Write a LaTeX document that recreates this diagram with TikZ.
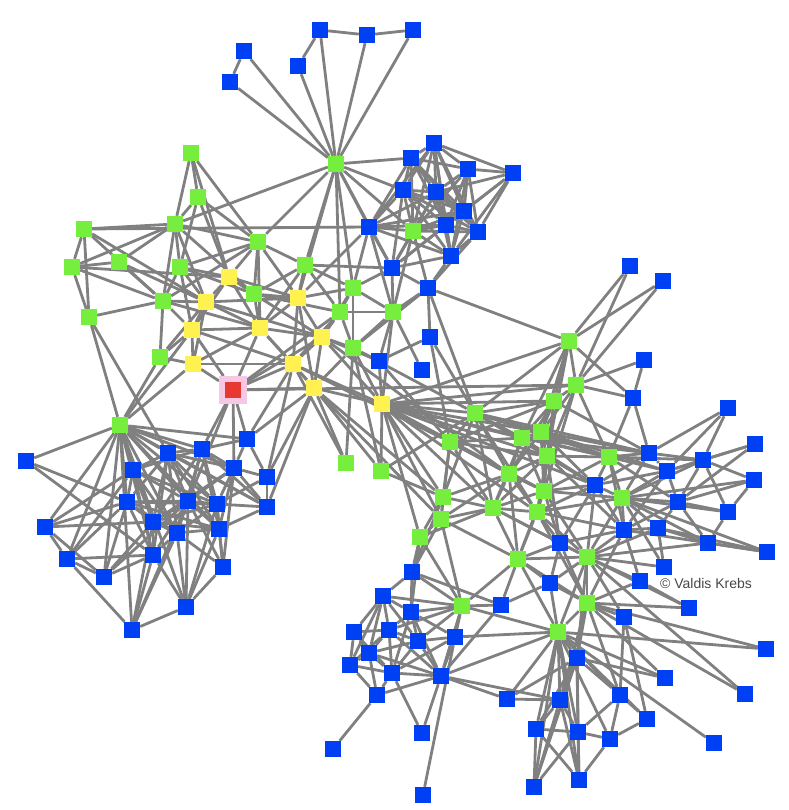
\documentclass[tikz,border=0pt]{standalone}
\usepackage{fontspec}
\usepackage{tikz}
\usetikzlibrary{backgrounds}
\newfontfamily\creditfont{Liberation Sans}
\definecolor{nodeblue}{RGB}{0,64,245}
\definecolor{nodegreen}{RGB}{118,238,62}
\definecolor{nodeyellow}{RGB}{255,242,80}
\definecolor{nodered}{RGB}{232,56,48}
\definecolor{halopink}{RGB}{245,200,230}
\definecolor{linkgray}{RGB}{128,128,128}
\tikzstyle{actor}=[rectangle, inner sep=0pt, minimum size=16pt]
\tikzstyle{bl}=[actor, fill=nodeblue]
\tikzstyle{gr}=[actor, fill=nodegreen]
\tikzstyle{ye}=[actor, fill=nodeyellow]
\tikzstyle{focus}=[rectangle, inner sep=0pt, minimum size=22pt, fill=nodered, draw=halopink, line width=6pt]
\tikzstyle{link}=[draw=linkgray, line width=2.8pt]

\begin{document}
\begin{tikzpicture}[x=1pt, y=-1pt]
    \useasboundingbox (0,0) rectangle (788,810);
    % blue actors
    \foreach \n/\x/\y in {t1/244/51, t2/230/82, t3/298/66, t4/320/30, t5/367/35, t6/413/30,
        r1/434/143, r2/411/158, r3/468/169, r4/513/173, r5/403/190, r6/436/192, r7/464/211,
        r8/446/225, r9/478/232, r10/369/227, r11/451/256, r12/392/268, r13/428/288,
        r14/430/337, r15/422/370, r16/379/361,
        l1/26/461, l2/168/453, l3/202/449, l4/247/439, l5/133/470, l6/234/468, l7/267/477,
        l8/127/502, l9/188/501, l10/217/504, l11/267/507, l12/45/527, l13/153/522, l14/177/533,
        l15/219/529, l16/67/559, l17/153/555, l18/104/577, l19/223/567, l20/186/607, l21/132/630,
        p1/630/266, p2/663/281, p3/644/360, p4/633/398, p5/728/408, p6/755/444, p7/649/453,
        p8/703/460, p9/667/471, p10/754/480, p11/595/485, p12/678/502, p13/728/512, p14/624/530,
        p15/658/528, p16/708/543, p17/767/552, p18/560/543, p19/664/567, p20/550/583, p21/640/581,
        p22/689/608, p23/624/617, p24/766/649, p25/577/658, p26/665/678, p27/745/694, p28/620/695,
        p29/560/700, p30/647/719, p31/536/729, p32/578/732, p33/610/739, p34/714/743, p35/534/787,
        p36/579/780,
        b1/412/572, b2/383/596, b3/411/612, b4/501/605, b5/354/632, b6/389/630, b7/418/641,
        b8/455/637, b9/369/653, b10/350/665, b11/392/673, b12/441/676, b13/377/695, b14/507/699,
        b15/422/733, b16/333/749, b17/423/795}
        \node[bl] (\n) at (\x,\y) {};
    % green actors
    \foreach \n/\x/\y in {h/336/164, rg/413/231, a1/191/153, a2/198/197, a3/175/224, a4/84/229,
        a5/258/242, a6/72/267, a7/119/262, a8/180/267, a9/305/265, a10/254/294, a11/163/301,
        a12/89/317, a13/160/357, a14/353/288, a15/340/312, a16/393/312, a17/353/348, a18/120/425,
        m1/346/463, m2/381/471,
        s1/569/341, s2/576/385, s3/554/401, s4/475/413, s5/450/442, s6/522/438, s7/541/432,
        s8/547/456, s9/609/457, s10/509/474, s11/544/491, s12/443/497, s13/493/508, s14/537/512,
        s15/441/519, s16/622/498, s17/420/537, s18/518/559, s19/587/557, s20/462/606,
        s21/587/603, s22/558/632}
        \node[gr] (\n) at (\x,\y) {};
    % yellow actors
    \foreach \n/\x/\y in {y1/229/277, y2/206/302, y3/298/298, y4/192/330, y5/260/328,
        y6/322/337, y7/193/364, y8/293/364, y9/314/388, y10/382/404}
        \node[ye] (\n) at (\x,\y) {};
    \node[focus] (kr) at (233,390) {};

    \node[font=\creditfont\fontsize{14}{16}\selectfont, text=black!72] (credit) at (706,583) {\textcopyright{} Valdis Krebs};

    % ties
    \begin{scope}[on background layer]
    \foreach \src/\dsts in {
        h/{t1,t2,t3,t4,t5,t6,r2,r5,r10,a14,a15,a9,a5,y3,rg,r12,a3},
        t1/{t2}, t3/{t4}, t4/{t5}, t5/{t6},
        r1/{r2,r3,r5,r6,r7,r8,rg,r10,r9,r11,r4},
        r2/{r5,r6,r8,r10,rg,r3,r7,r9},
        r3/{r4,r6,r7,r9,r8,rg,r11},
        r4/{r7,r9,r11,r8,r6},
        r5/{r6,r7,r10,r8,rg,r12,r9,r11},
        r6/{r7,r8,r9,rg,r11,r10,r12},
        r7/{r8,r9,rg,r11,r10,r12},
        r8/{r9,r10,rg,r11,r12},
        r9/{r11,rg,r13},
        r10/{rg,r11,r12,a4,a16,a14,y3},
        rg/{r11,r12,r13,a16},
        r11/{r12,r13},
        r12/{r13,a16,a14,a9},
        r13/{r14,a16,a17,s1,s4},
        r14/{s4,r16,s5},
        r15/{a16},
        r16/{a16,a17,y10,y6,s5},
        a1/{a2,a3,a5,y1},
        a2/{a3,a5,y1,a8},
        a3/{a4,a7,a6,a8,y2,a11,a5,a10},
        a4/{a6,a12,y2,a11},
        a6/{a7,a12,y1,a11},
        a7/{a11,y2},
        a5/{a10,a9,y1,y3,y5,a8,a11},
        a8/{y1,y2,a11,y4,a10},
        a9/{y3,a10,a14,a15,y5},
        a10/{y3,y1,y5,a15,y6},
        a11/{y2,a12,a13,y4,y5},
        a13/{y2,y4,y7},
        a14/{a15,a16,y3,y6,a17},
        a15/{a16,a17,y6,y8,kr},
        a16/{a17,y10},
        a17/{y6,y9,y10,s4},
        y1/{y2,y3,y5,y4},
        y2/{y4,y5,y7,y3,y6},
        y3/{y5,y6,y8,y9},
        y4/{y5,y7,y8,kr},
        y5/{y6,y7,y8,y9,kr},
        y6/{y8,y9,y10,kr,s10},
        y7/{y8,kr},
        y8/{y9,kr,y10,s5,l4},
        y9/{y10,kr,m1,l7,l11,s12,s15,m2},
        y10/{s1,s4,s5,s6,s7,s8,s10,s12,s13,s14,s15,s17,s11,s9,s3,s2,m2,p11},
        kr/{s2,l4,l6,l3,l9},
        a18/{l1,l2,l3,l4,l5,l6,l8,l9,l10,l12,l13,l14,l16,l17,l18,l20,l21,a12,a13,y7,y4,l11,l15},
        a12/{l2},
        l1/{l8,l17},
        l2/{l3,l5,l6,l8,l9,l10,l13,l14,l11,l15,l17},
        l3/{l4,l6,l9,l10,l5,l11,l13,l14,l15},
        l4/{l6,l7,y9},
        l5/{l8,l9,l13,l12,l16,l10,l14,l17},
        l6/{l7,l9,l10,l11,l15,l13,l19},
        l7/{l10,l11,y8},
        l8/{l9,l12,l13,l16,l17,l18,l10,l14,l15},
        l9/{l10,l13,l14,l15,l17,l18,l20,l21,l19},
        l10/{l11,l14,l15,l19,l13,l20},
        l11/{l15},
        l12/{l16,l18,l13},
        l13/{l14,l17,l18,l21,l15},
        l14/{l15,l17,l20,l21,l19},
        l15/{l19,l20},
        l16/{l18,l21,l17},
        l17/{l18,l21,l20},
        l19/{l20}, l20/{l21},
        m1/{a17,y8}, m2/{s4,a17,s12},
        s1/{p1,p2,s2,s3,s6,s7,s4,s8,p4},
        s2/{p1,p2,p4,s3,s7,s8,s9,s11,p3},
        s3/{s6,s7,s8,s4,s5,s10,p7},
        p3/{p4},
        p4/{p7,s9},
        s4/{s5,s6,s7,s10,s12,s13,p7,p11,s9,s14},
        s5/{s6,s8,s10,s12,s13,s15,s11},
        s6/{s7,s8,s10,s11,s9,p11,p7,s13},
        s7/{s8,s9,s11,p7,p9,p11,s10},
        s8/{s10,s11,s13,s14,s9,p11,p18,p14},
        s9/{p7,p8,p9,p11,s16,p12,p14,s11},
        p5/{p8,p9,p7},
        p6/{p8,p9,p12},
        s10/{s11,s13,s12,s14,s15,s18},
        s11/{s13,s14,p11,s16,p18,s19,s18},
        p7/{p9,p8,p11,s16},
        p8/{p9,p12,p13,p10,s16},
        p9/{p12,p11,s16,p14},
        p10/{s16,p12,p13},
        p11/{s16,s14,p18,p14,s19},
        s12/{s13,s15,s17,b1},
        s13/{s14,s15,s17,s18,p18,s19},
        s14/{p18,s18,s19,s16,p14,s21},
        s15/{s17,s18,b1,s20},
        s16/{p12,p14,p15,p16,p13,s19,p19,p17},
        s17/{b1,s20,b3},
        p12/{p14,p15,p16,p13},
        p13/{p16},
        p14/{p15,s19,p18,s21,p21,p17},
        p15/{p16,p17,p19,s19},
        p16/{p17,s19},
        p18/{s19,s18,p20,s21},
        s18/{s19,p20,s20,s21,s22,b4},
        s19/{s21,p20,p21,p19,s22,p23,p25,p22,p27},
        p20/{s21,s22,b4},
        s21/{s22,p23,p21,p22,p24,p26,p27,p25,p28,p29},
        s22/{p25,p29,p31,p32,p33,p28,p30,p35,p36,b8,s20,p34,p24,p26},
        p21/{p22},
        p23/{p28,p30},
        p25/{p29,p32,p28,p35,p36,p31,p26},
        p28/{p30,p33,p32},
        p29/{p31,p32,p35,p36},
        p31/{p32,p35,p36},
        p32/{p33,p36,p35},
        p33/{p30,p36},
        s20/{b1,b2,b3,b4,b6,b7,b8,b12},
        b1/{b2,b3,b4},
        b2/{b3,b5,b6,b7,b9,b10},
        b3/{b6,b7,b8,b12,b11},
        b5/{b6,b9,b10,b11},
        b6/{b7,b9,b10,b11,b12},
        b7/{b8,b9,b11,b12},
        b8/{b12,b11,b17},
        b9/{b10,b11,b13,b12},
        b10/{b11,b13},
        b11/{b12,b13,b15},
        b12/{b13,b15,b14,b4,p29,s22},
        b13/{b16},
        b14/{s22,p25,p29}}
        \foreach \dst in \dsts
            \draw[link] (\src) -- (\dst);
    \end{scope}
\end{tikzpicture}
\end{document}
